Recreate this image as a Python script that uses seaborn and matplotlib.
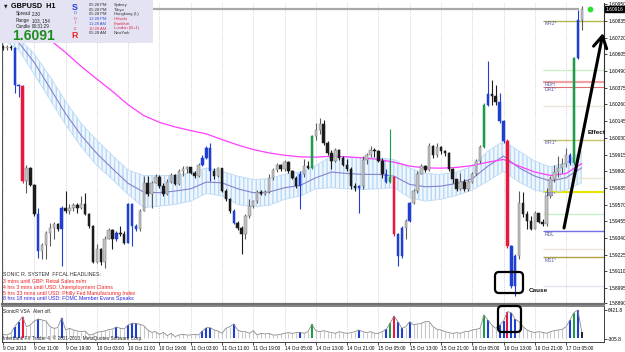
import matplotlib
matplotlib.use("Agg")
import matplotlib.pyplot as plt
from matplotlib.patches import Rectangle, FancyBboxPatch
import numpy as np
import pandas as pd
import seaborn as sns

# ---------------- data ----------------
first_open = 1.60655
closes = [1.60648, 1.60655, 1.60648, 1.60396, 1.60389, 1.59732, 1.59823, 1.59702, 1.59503, 1.59251,
          1.59290, 1.59377, 1.59411, 1.59439, 1.59400, 1.59549, 1.59526, 1.59549, 1.59565, 1.59549,
          1.59571, 1.59503, 1.59423, 1.59175, 1.59267, 1.59175, 1.59336, 1.59395, 1.59331, 1.59372,
          1.59365, 1.59308, 1.59571, 1.59423, 1.59400, 1.59526, 1.59720, 1.59640, 1.59720, 1.59762,
          1.59697, 1.59640, 1.59725, 1.59775, 1.59709, 1.59798, 1.59816, 1.59826, 1.59789, 1.59766,
          1.59846, 1.59892, 1.59958, 1.59800, 1.59766, 1.59821, 1.59663, 1.59606, 1.59526, 1.59445,
          1.59409, 1.59365, 1.59491, 1.59560, 1.59592, 1.59656, 1.59640, 1.59658, 1.59752, 1.59807,
          1.59844, 1.59812, 1.59865, 1.59800, 1.59755, 1.59697, 1.59778, 1.59839, 1.59823, 1.60041,
          1.60087, 1.60128, 1.59995, 1.59926, 1.59869, 1.59945, 1.59892, 1.59846, 1.59812, 1.59697,
          1.59686, 1.59697, 1.59876, 1.59913, 1.59945, 1.59936, 1.59869, 1.59778, 1.59725, 1.59762,
          1.59365, 1.59216, 1.59411, 1.59457, 1.59578, 1.59661, 1.59784, 1.59839, 1.59807, 1.59977,
          1.59915, 1.59968, 1.59938, 1.59926, 1.59812, 1.59743, 1.59674, 1.59725, 1.59679, 1.59725,
          1.59784, 1.59867, 1.59968, 1.60256, 1.60334, 1.60320, 1.60274, 1.60144, 1.60007, 1.59285,
          1.59008, 1.59214, 1.59583, 1.59503, 1.59457, 1.59404, 1.59510, 1.59450, 1.59434, 1.59629,
          1.59743, 1.59794, 1.59823, 1.59853, 1.59910, 1.59858, 1.60579, 1.60842, 1.60915]
highs = [1.60671, 1.60673, 1.60671, 1.60655, 1.60403, 1.60396, 1.59846, 1.59830, 1.59709, 1.59549,
         1.59308, 1.59388, 1.59445, 1.59450, 1.59441, 1.59560, 1.59663, 1.59571, 1.59583, 1.59583,
         1.59629, 1.59647, 1.59514, 1.59427, 1.59297, 1.59274, 1.59354, 1.59411, 1.59400, 1.59388,
         1.59423, 1.59388, 1.59583, 1.59583, 1.59434, 1.59537, 1.59766, 1.59766, 1.59732, 1.59778,
         1.59771, 1.59720, 1.59743, 1.59789, 1.59782, 1.59812, 1.59835, 1.59835, 1.59830, 1.59800,
         1.59858, 1.59915, 1.59977, 1.59995, 1.59823, 1.59830, 1.59823, 1.59674, 1.59617, 1.59537,
         1.59457, 1.59423, 1.59503, 1.59606, 1.59601, 1.59670, 1.59668, 1.59670, 1.59778, 1.59823,
         1.59858, 1.59853, 1.59876, 1.59869, 1.59807, 1.59766, 1.59800, 1.59881, 1.59869, 1.60052,
         1.60132, 1.60167, 1.60155, 1.60007, 1.59949, 1.59961, 1.59954, 1.59903, 1.59881, 1.59830,
         1.59716, 1.59707, 1.59903, 1.59926, 1.59972, 1.59961, 1.59949, 1.59892, 1.59812, 1.60091,
         1.59766, 1.59377, 1.59423, 1.59473, 1.59587, 1.59674, 1.59800, 1.59853, 1.59846, 1.59991,
         1.59984, 1.59995, 1.59977, 1.59949, 1.59931, 1.59823, 1.59748, 1.59789, 1.59743, 1.59739,
         1.59794, 1.59881, 1.59984, 1.60270, 1.60556, 1.60430, 1.60396, 1.60339, 1.60155, 1.60020,
         1.59290, 1.59228, 1.59661, 1.59656, 1.59526, 1.59491, 1.59526, 1.59514, 1.59473, 1.59686,
         1.59766, 1.59846, 1.59903, 1.59892, 1.59961, 1.59926, 1.60590, 1.60910, 1.60940]
lows = [1.60632, 1.60636, 1.60632, 1.60339, 1.60311, 1.59720, 1.59652, 1.59697, 1.59491, 1.59205,
        1.59194, 1.59194, 1.59285, 1.59331, 1.59388, 1.59148, 1.59514, 1.59503, 1.59526, 1.59514,
        1.59537, 1.59496, 1.59411, 1.59166, 1.59166, 1.59157, 1.59136, 1.59331, 1.59262, 1.59320,
        1.59354, 1.59297, 1.59304, 1.59285, 1.59388, 1.59388, 1.59526, 1.59629, 1.59549, 1.59716,
        1.59686, 1.59629, 1.59633, 1.59716, 1.59702, 1.59707, 1.59766, 1.59789, 1.59780, 1.59755,
        1.59762, 1.59835, 1.59881, 1.59732, 1.59743, 1.59757, 1.59656, 1.59594, 1.59514, 1.59434,
        1.59395, 1.59228, 1.59331, 1.59480, 1.59549, 1.59583, 1.59633, 1.59633, 1.59652, 1.59739,
        1.59794, 1.59800, 1.59803, 1.59789, 1.59743, 1.59686, 1.59537, 1.59762, 1.59812, 1.59816,
        1.60018, 1.60059, 1.59984, 1.59915, 1.59812, 1.59862, 1.59876, 1.59835, 1.59800, 1.59674,
        1.59663, 1.59514, 1.59674, 1.59853, 1.59899, 1.59899, 1.59862, 1.59755, 1.59716, 1.59716,
        1.59354, 1.59148, 1.59205, 1.59331, 1.59450, 1.59571, 1.59652, 1.59778, 1.59794, 1.59798,
        1.59892, 1.59899, 1.59922, 1.59908, 1.59800, 1.59720, 1.59661, 1.59670, 1.59663, 1.59663,
        1.59720, 1.59771, 1.59858, 1.59961, 1.60247, 1.60258, 1.60258, 1.60132, 1.59995, 1.59274,
        1.58992, 1.58939, 1.59194, 1.59487, 1.59400, 1.59395, 1.59400, 1.59441, 1.59423, 1.59423,
        1.59617, 1.59725, 1.59762, 1.59789, 1.59830, 1.59846, 1.59846, 1.60570, 1.60770]
volumes = [779, 624, 1011, 2557, 3716, 4876, 2557, 2943, 3871, 4335,
           4103, 3871, 2557, 2170, 2325, 4644, 1784, 2170, 1784, 1552,
           1397, 1552, 624, 779, 1243, 1397, 1552, 1861, 2016, 2480,
           2170, 2016, 2943, 3330, 3330, 3098, 2789, 1784, 1243, 1397,
           779, 1243, 470, 1011, 238, 624, 779, 624, 624, 779,
           624, 1552, 2325, 2325, 1784, 1552, 1011, 2171, 2557, 3175,
           1784, 1397, 1397, 1011, 1629, 624, 1011, 857, 1011, 624,
           624, 779, 1011, 1166, 1011, 1166, 1243, 1011, 1397, 3098,
           1629, 1397, 1629, 1397, 1166, 1011, 1397, 1166, 1011, 1166,
           1397, 1784, 1397, 1166, 1397, 1011, 1011, 1397, 1938, 3330,
           5031, 3716, 2170, 2557, 3716, 2943, 3175, 3330, 3716, 3716,
           2557, 1938, 1784, 1397, 1166, 1011, 1166, 1011, 1397, 1397,
           1784, 1938, 2170, 5263, 4103, 2943, 2170, 2943, 3871, 6036,
           5804, 4258, 3716, 2557, 1784, 1397, 1166, 1397, 1243, 1011,
           1397, 1629, 1784, 1938, 2557, 4103, 5804, 6421.8, 1397]
vol_min_label = -305.8

# VSA signal bars
blue_bars = [3, 4, 9, 15, 29, 32, 33, 34, 51, 52, 53, 59, 76, 91, 98, 101, 102, 104,
             124, 127, 128, 130, 131, 145, 147]
red_bars = [5, 100, 129]
green_bars = [79, 99, 123, 146]

# moving-average band (sampled every 4 bars)
ma_bars = list(range(0, 149, 4))
dragon_upper = [1.60808, 1.60716, 1.60609, 1.60453, 1.60281, 1.60128, 1.60013, 1.59908, 1.59807, 1.59771,
                1.59771, 1.59771, 1.59789, 1.59823, 1.59800, 1.59766, 1.59743, 1.59748, 1.59778, 1.59794,
                1.59839, 1.59903, 1.59899, 1.59892, 1.59892, 1.59881, 1.59823, 1.59784, 1.59778, 1.59794,
                1.59835, 1.59938, 1.60007, 1.59938, 1.59869, 1.59830, 1.59858, 1.59938]
dragon_mid = [1.60755, 1.60687, 1.60549, 1.60373, 1.60197, 1.60046, 1.59922, 1.59817, 1.59716, 1.59656,
              1.59652, 1.59663, 1.59679, 1.59725, 1.59720, 1.59679, 1.59652, 1.59656, 1.59686, 1.59702,
              1.59755, 1.59794, 1.59784, 1.59778, 1.59778, 1.59766, 1.59709, 1.59693, 1.59697, 1.59716,
              1.59748, 1.59835, 1.59904, 1.59823, 1.59766, 1.59732, 1.59755, 1.59823]
dragon_lower = [1.60705, 1.60636, 1.60467, 1.60293, 1.60121, 1.59968, 1.59839, 1.59743, 1.59640, 1.59549,
                1.59560, 1.59571, 1.59594, 1.59647, 1.59629, 1.59571, 1.59555, 1.59565, 1.59606, 1.59629,
                1.59679, 1.59686, 1.59679, 1.59674, 1.59679, 1.59686, 1.59617, 1.59594, 1.59606, 1.59633,
                1.59670, 1.59732, 1.59800, 1.59725, 1.59670, 1.59647, 1.59670, 1.59720]
ema_slow = [1.60980, 1.60888, 1.60797, 1.60705, 1.60618, 1.60522, 1.60435, 1.60350, 1.60258, 1.60183,
            1.60137, 1.60105, 1.60080, 1.60057, 1.60018, 1.59981, 1.59949, 1.59926, 1.59910, 1.59899,
            1.59897, 1.59903, 1.59899, 1.59892, 1.59881, 1.59862, 1.59835, 1.59823, 1.59821, 1.59826,
            1.59839, 1.59862, 1.59881, 1.59835, 1.59794, 1.59771, 1.59784, 1.59853]

# pivot levels
level_names = ["MR2*", "", "RDH", "DR1*", "", "MR1*", "", "DP1*", "", "RDL", "", "MS1*", ""]
level_prices = [1.60835, 1.60498, 1.60416, 1.60382, 1.60251, 1.60018, 1.59750, 1.59660,
                1.59502, 1.59385, 1.59262, 1.59207, 1.59008]
level_start_bar = 138
bid_price = 1.60916

price_tick_labels = ["1.60950", "1.60835", "1.60720", "1.60605", "1.60490", "1.60375", "1.60260",
                     "1.60145", "1.60030", "1.59915", "1.59800", "1.59685", "1.59570", "1.59455",
                     "1.59340", "1.59225", "1.59110", "1.58995", "1.58890"]
time_labels = ["9 Oct 2013", "9 Oct 11:00", "9 Oct 19:00", "10 Oct 03:00", "10 Oct 11:00",
               "10 Oct 19:00", "11 Oct 03:00", "11 Oct 11:00", "11 Oct 19:00", "14 Oct 05:00",
               "14 Oct 13:00", "14 Oct 21:00", "15 Oct 05:00", "15 Oct 13:00", "15 Oct 21:00",
               "16 Oct 05:00", "16 Oct 13:00", "16 Oct 21:00", "17 Oct 05:00"]
time_label_bars = [0, 8, 16, 24, 32, 40, 48, 56, 64, 72, 80, 88, 96, 104, 112, 120, 128, 136, 144]

headlines = ["3 mins until GBP: Retail Sales m/m",
             "4 hrs 3 mins until USD: Unemployment Claims",
             "5 hrs 33 mins until USD: Philly Fed Manufacturing Index",
             "8 hrs 18 mins until USD: FOMC Member Evans Speaks"]
session_times = ["05:28 PM", "05:28 PM", "05:28 PM", "12:28 PM", "11:28 AM", "10:28 AM", "05:28 AM"]
session_cities = ["Sydney", "Tokyo", "Hongkong (L)", "Helsinki", "Frankfurt", "London (B+1)", "NewYork"]

# ---------------- styling ----------------
sns.set_theme(style="white")
plt.rcParams['font.family'] = ['Liberation Sans', 'DejaVu Sans']
plt.rcParams['hatch.linewidth'] = 0.9
plt.rcParams['hatch.color'] = '#b4d5f4'

W, H = 625, 352
fig = plt.figure(figsize=(W / 100, H / 100), dpi=100)
fig.patch.set_facecolor('white')


def rect(x0, y0, x1, y1):
    return [x0 / W, 1 - y1 / H, (x1 - x0) / W, (y1 - y0) / H]


ax = fig.add_axes(rect(2, 3, 604, 304))
axv = fig.add_axes(rect(2, 306, 604, 342))

n = len(closes)
xb = np.arange(n)
opens = [first_open] + closes[:-1]
df = pd.DataFrame({'bar': xb, 'open': opens, 'high': highs, 'low': lows,
                   'close': closes, 'volume': volumes})
sig = ['none'] * n
for b in blue_bars:
    sig[b] = 'blue'
for b in red_bars:
    sig[b] = 'red'
for b in green_bars:
    sig[b] = 'green'
df['signal'] = sig

sig_col = {'blue': '#1f3fd0', 'red': '#e8173f', 'green': '#1c9c48'}
body_c, edge_c, wick_c = [], [], []
for s, o, c in zip(df['signal'], df['open'], df['close']):
    if s != 'none':
        body_c.append(sig_col[s]); edge_c.append(sig_col[s]); wick_c.append(sig_col[s])
    elif c >= o:
        body_c.append('#c2c2c2'); edge_c.append('#7c7c7c'); wick_c.append('#5c5c5c')
    else:
        body_c.append('#1c1c1c'); edge_c.append('#1c1c1c'); wick_c.append('#1c1c1c')

XL = (-0.26, 153.7)

# dragon band + averages
ax.fill_between(ma_bars, dragon_lower, dragon_upper, facecolor='#eef6fe',
                edgecolor='#b4d5f4', hatch='||||', linewidth=0, zorder=1)
sns.lineplot(x=ma_bars, y=dragon_upper, ax=ax, color='#bcdaf6', lw=0.6, zorder=2, legend=False)
sns.lineplot(x=ma_bars, y=dragon_lower, ax=ax, color='#bcdaf6', lw=0.6, zorder=2, legend=False)
sns.lineplot(x=ma_bars, y=dragon_mid, ax=ax, color='#8682cc', lw=0.8, zorder=3, legend=False)
sns.lineplot(x=ma_bars, y=ema_slow, ax=ax, color='#ff3dff', lw=0.9, zorder=3, legend=False)

# pivot levels
lvl_style = {"MR2*": ('#b4b450', 1.0), "RDH": ('#f2a0a0', 1.6), "DR1*": ('#e07070', 0.8),
             "MR1*": ('#c4c470', 1.0), "DP1*": ('#e6e600', 1.5), "RDL": ('#7070e6', 1.0),
             "MS1*": ('#b0a040', 1.0)}
faint = ['#c8f0c8', '#ece4d6', '#ece4d6', '#c8f0c8', '#ece4d6', '#e4e4f8']
fi = 0
for name, p in zip(level_names, level_prices):
    if name:
        col, lw = lvl_style[name]
    else:
        col, lw = faint[fi % len(faint)], 1.0
        fi += 1
    ax.hlines(p, level_start_bar + 0.1, XL[1], colors=col, lw=lw, zorder=1.5)
    if name:
        ax.text(level_start_bar + 0.6, p - 0.00003, name, fontsize=3.6, color='#5c5ca8',
                va='top', ha='left', zorder=6)

# bid line
ax.hlines(bid_price, XL[0], n - 1.7, colors='#a8a8a8', lw=1.6, zorder=2)

# candles
ax.vlines(df['bar'], df['low'], df['high'], colors=wick_c, lw=0.8, zorder=4)
bottoms = np.minimum(df['open'], df['close'])
heights = np.maximum(np.abs(df['close'] - df['open']), 0.00003)
ax.bar(df['bar'], heights, bottom=bottoms, width=0.62, color=body_c,
       edgecolor=edge_c, linewidth=0.35, zorder=5)
ax.scatter([150.0], [bid_price], s=10, color='#2ee02e', zorder=6)

ax.set_xlim(*XL)
ax.set_ylim(1.58885, 1.60959)
ax.yaxis.tick_right()
ax.set_yticks([float(s) for s in price_tick_labels])
ax.set_yticklabels(price_tick_labels)
ax.tick_params(axis='y', right=True, left=False, length=2, width=0.5, pad=1,
               labelsize=3.5, colors='black')
ax.set_xticks(time_label_bars)
ax.tick_params(axis='x', bottom=False, labelbottom=False)
ax.set_axisbelow(True)
ax.grid(True, axis='x', linestyle=(0, (1, 1.5)), color='#c4c4c4', lw=0.6)
ax.grid(False, axis='y')
ax.set_xlabel(''); ax.set_ylabel('')
ax.spines['top'].set_visible(False)
ax.spines['left'].set_color('#505050'); ax.spines['left'].set_linewidth(0.7)
ax.spines['right'].set_color('#303030'); ax.spines['right'].set_linewidth(0.8)
ax.spines['bottom'].set_color('#707070'); ax.spines['bottom'].set_linewidth(1.6)
ax.text(1.003, bid_price, '1.60916', transform=ax.get_yaxis_transform(), ha='left',
        va='center', fontsize=3.5, color='white', zorder=10, clip_on=False,
        bbox=dict(boxstyle='square,pad=0.15', fc='black', ec='black'))

# volume panel
vcol, vlw = [], []
for i, s in enumerate(df['signal']):
    if i == n - 1:
        vcol.append('#202020'); vlw.append(1.4)
    elif s == 'none':
        vcol.append('#c6c6cc'); vlw.append(0.8)
    else:
        vcol.append(sig_col[s]); vlw.append(1.5)
axv.vlines(df['bar'], 0, df['volume'], colors=vcol, lw=vlw, zorder=2)
sns.lineplot(x=df['bar'], y=df['volume'], ax=axv, color='#8c8c8c', lw=0.6, zorder=3, legend=False)
axv.set_xlim(*XL)
axv.set_ylim(-1002, 7350)
axv.yaxis.tick_right()
vmax = max(volumes)
axv.set_yticks([vmax, vol_min_label])
axv.set_yticklabels([f"{vmax:.1f}", f"{vol_min_label:.1f}"])
axv.tick_params(axis='y', right=True, left=False, length=2, width=0.5, pad=1,
                labelsize=3.5, colors='black')
axv.set_xticks(time_label_bars)
axv.set_xticklabels(time_labels, ha='left')
axv.tick_params(axis='x', bottom=True, length=2, width=0.5, pad=0.8, labelsize=3.4,
                colors='black', direction='out')
axv.set_axisbelow(True)
axv.grid(True, axis='x', linestyle=(0, (1, 1.5)), color='#c4c4c4', lw=0.6)
axv.grid(False, axis='y')
axv.set_xlabel(''); axv.set_ylabel('')
axv.spines['top'].set_color('#707070'); axv.spines['top'].set_linewidth(1.2)
for sp in ['left', 'right', 'bottom']:
    axv.spines[sp].set_color('#404040'); axv.spines[sp].set_linewidth(0.7)

# overlay (pixel coordinates) for screen texts and annotations
ov = fig.add_axes([0, 0, 1, 1], zorder=10)
ov.set_xlim(0, W); ov.set_ylim(H, 0); ov.set_axis_off()

ov.add_patch(Rectangle((0, 0), 153, 43, facecolor='#e3e3f3', edgecolor='none', zorder=1))
ov.text(4, 6, '▼', fontsize=3.3, va='center', ha='left', color='#202020', family=['DejaVu Sans'])
ov.text(11, 6.5, 'GBPUSD  H1', fontsize=5.2, weight='bold', va='center', ha='left', color='black')
for yy, k, v in [(14, 'Spread', '2.30'), (20.5, 'Range', '103, 154'), (27, 'Candle', '00:31:29')]:
    ov.text(16, yy, k, fontsize=3.3, va='center', ha='left', color='#202020')
    ov.text(32, yy, v, fontsize=3.3, va='center', ha='left', color='#202020')
ov.text(12, 36.5, '1.6091', fontsize=10, weight='bold', va='center', ha='left', color='#1e8c1e')
for yy, ch, col, fs, wt in [(7, 'S', '#2040e0', 6.3, 'bold'), (13, 'o', '#5a5af0', 3.6, 'normal'),
                            (18, 'n', '#c060b0', 3.6, 'normal'), (23, 'i', '#e06080', 3.6, 'normal'),
                            (28, 'c', '#e03030', 3.6, 'normal'), (36, 'R', '#ee2020', 6.3, 'bold')]:
    ov.text(75, yy, ch, fontsize=fs, weight=wt, color=col, ha='center', va='center')
t_cols = ['#303030', '#303030', '#303030', '#3050d0', '#3050d0', '#e03050', '#303030']
c_cols = ['#303030', '#303030', '#303030', '#e03050', '#e02030', '#e03050', '#303030']
for k, (t, c) in enumerate(zip(session_times, session_cities)):
    yy = 5 + 4.7 * k
    ov.text(89, yy, t, fontsize=3.0, va='center', ha='left', color=t_cols[k])
    ov.text(114, yy, c, fontsize=3.0, va='center', ha='left', color=c_cols[k])

ov.text(3, 275, 'SONIC R. SYSTEM  FFCAL HEADLINES:', fontsize=3.8, va='center', ha='left', color='#303030')
hl_cols = ['#ee2020', '#ee2020', '#ee2020', '#2525dd']
for k, (t, c) in enumerate(zip(headlines, hl_cols)):
    ov.text(3, 281.5 + 5.8 * k, t, fontsize=3.8, va='center', ha='left', color=c)

ov.text(3, 311.5, 'SonicR VSA', fontsize=3.5, va='center', ha='left', color='#202020')
ov.text(33, 311.5, 'Alert off.', fontsize=3.5, va='center', ha='left', color='#202020')
ov.text(3, 338.5, 'Interbank FX Trader 4, © 2001-2013, MetaQuotes Software Corp.', fontsize=3.4,
        va='center', ha='left', color='#202020')

ov.add_patch(FancyBboxPatch((495, 272), 28, 21, boxstyle='round,pad=0,rounding_size=4',
                            fill=False, ec='black', lw=1.6, zorder=3))
ov.add_patch(FancyBboxPatch((498, 306), 23, 26, boxstyle='round,pad=0,rounding_size=4',
                            fill=False, ec='black', lw=1.6, zorder=3))
ov.text(529, 291, 'Cause', fontsize=4.6, weight='bold', va='center', ha='left', color='#101010')
ov.text(588, 132, 'Effect', fontsize=4.6, weight='bold', va='center', ha='left', color='#101010')
ov.annotate('', xy=(603, 33), xytext=(564, 228),
            arrowprops=dict(arrowstyle='->,head_length=0.7,head_width=0.4', color='black',
                            lw=2.2, shrinkA=0, shrinkB=0))

fig.savefig('out.png', dpi=100, facecolor='white')
